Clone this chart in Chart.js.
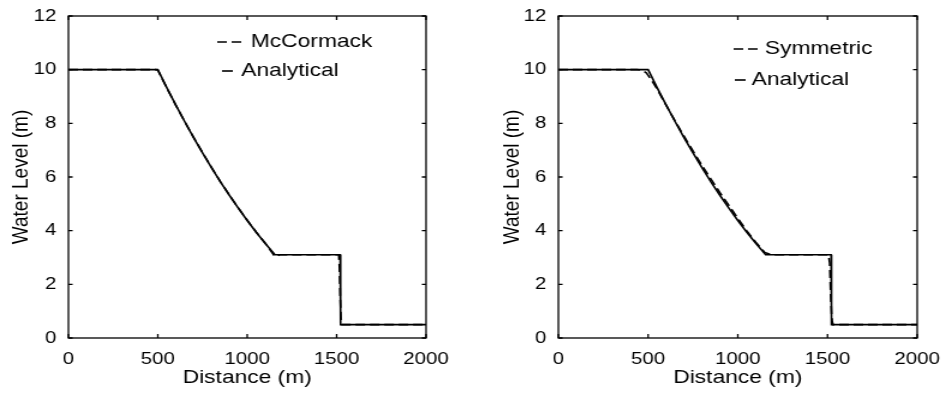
<!DOCTYPE html>
<html>
<head>
<meta charset="utf-8">
<script src="https://cdn.jsdelivr.net/npm/chart.js@4/dist/chart.umd.min.js"></script>
<style>
  body { margin: 0; background: #fff; width: 944px; height: 393px; overflow: hidden; position: relative; }
  .panel { position: absolute; top: 0; width: 393px; height: 393px; transform: scaleX(1.2); transform-origin: 0 0; }
</style>
</head>
<body>
<div class="panel" style="left:0"><canvas id="left" width="393" height="393"></canvas></div>
<div class="panel" style="left:472px"><canvas id="right" width="393" height="393"></canvas></div>
<script>
// values
const xTicks = [0, 500, 1000, 1500, 2000];
const yTicks = [0, 2, 4, 6, 8, 10, 12];

const analyticalX = [0, 500, 550, 600, 650, 700, 750, 800, 850, 900, 950, 1000, 1050, 1100, 1155, 1520, 1522, 2000];
const analyticalY = [10, 10, 9.33, 8.69, 8.07, 7.47, 6.90, 6.35, 5.82, 5.32, 4.84, 4.38, 3.94, 3.53, 3.1, 3.1, 0.5, 0.5];

const mccormackX = [0, 490, 500, 550, 600, 650, 700, 750, 800, 850, 900, 950, 1000, 1050, 1100, 1150, 1165, 1180, 1512, 1516, 1520, 1525, 1530, 2000];
const mccormackY = [10, 10, 9.98, 9.32, 8.68, 8.07, 7.48, 6.91, 6.36, 5.83, 5.33, 4.85, 4.39, 3.95, 3.54, 3.08, 3.03, 3.1, 3.1, 2.6, 1.5, 0.7, 0.5, 0.5];

const symmetricX = [0, 440, 470, 490, 520, 550, 600, 650, 700, 750, 800, 850, 900, 950, 1000, 1050, 1100, 1150, 1180, 1200, 1505, 1512, 1518, 1524, 1530, 2000];
const symmetricY = [10, 10, 9.97, 9.88, 9.6, 9.28, 8.68, 8.09, 7.52, 6.97, 6.43, 5.92, 5.42, 4.94, 4.46, 3.99, 3.57, 3.19, 3.12, 3.1, 3.1, 2.8, 1.5, 0.7, 0.5, 0.5];

const FONT = '"Liberation Sans", Arial, sans-serif';

const toPoints = (xs, ys) => xs.map((x, i) => ({ x: x, y: ys[i] }));

// matlab style box, inward ticks and legend
const matlabBox = {
  id: 'matlabBox',
  afterDatasetsDraw(chart, args, opts) {
    const ctx = chart.ctx;
    const a = chart.chartArea;
    const xs = chart.scales.x, ys = chart.scales.y;
    ctx.save();
    ctx.strokeStyle = '#000';
    ctx.lineWidth = 1.3;
    ctx.setLineDash([]);
    ctx.strokeRect(a.left, a.top, a.right - a.left, a.bottom - a.top);
    ctx.beginPath();
    xTicks.forEach((v) => {
      const px = xs.getPixelForValue(v);
      ctx.moveTo(px, a.bottom); ctx.lineTo(px, a.bottom - 4);
      ctx.moveTo(px, a.top); ctx.lineTo(px, a.top + 4);
    });
    yTicks.forEach((v) => {
      const py = ys.getPixelForValue(v);
      ctx.moveTo(a.left, py); ctx.lineTo(a.left + 3.5, py);
      ctx.moveTo(a.right, py); ctx.lineTo(a.right - 3.5, py);
    });
    ctx.stroke();

    // legend
    ctx.font = '19px ' + FONT;
    ctx.fillStyle = '#000';
    ctx.textBaseline = 'middle';
    ctx.textAlign = 'left';
    opts.items.forEach((it, i) => {
      const ds = chart.data.datasets[i];
      ctx.beginPath();
      ctx.lineWidth = 1.6;
      ctx.setLineDash(ds.borderDash || []);
      ctx.moveTo(it.x1, it.y);
      ctx.lineTo(it.x2, it.y);
      ctx.stroke();
      ctx.setLineDash([]);
      ctx.fillText(ds.label, it.tx, it.y);
    });
    ctx.restore();
  }
};

function makeChart(id, numLabel, numX, numY, pad, yWidth, legendItems) {
  new Chart(document.getElementById(id), {
    type: 'line',
    data: {
      datasets: [{
        label: numLabel,
        data: toPoints(numX, numY),
        borderColor: '#000',
        borderWidth: 1.6,
        borderDash: [8, 4],
        pointRadius: 0,
        tension: 0
      }, {
        label: 'Analytical',
        data: toPoints(analyticalX, analyticalY),
        borderColor: '#000',
        borderWidth: 1.6,
        pointRadius: 0,
        tension: 0
      }]
    },
    options: {
      responsive: false,
      animation: false,
      events: [],
      layout: { padding: pad },
      plugins: {
        legend: { display: false },
        tooltip: { enabled: false },
        matlabBox: { items: legendItems }
      },
      scales: {
        x: {
          type: 'linear',
          min: 0,
          max: 2000,
          grid: { display: false },
          border: { display: false },
          ticks: { stepSize: 500, color: '#000', font: { family: FONT, size: 17 }, padding: 3, maxRotation: 0,
            callback: (v) => String(v) },
          title: { display: true, text: 'Distance (m)', color: '#000', font: { family: FONT, size: 19 }, padding: { top: 0, bottom: 4 } },
          afterFit: (scale) => { scale.height = 55; }
        },
        y: {
          min: 0,
          max: 12,
          grid: { display: false },
          border: { display: false },
          ticks: { stepSize: 2, color: '#000', font: { family: FONT, size: 17 }, padding: 2,
            callback: (v) => String(v) },
          title: { display: true, text: 'Water Level (m)', color: '#000', font: { family: FONT, size: 19 }, padding: { top: 6, bottom: 0 } },
          afterFit: (scale) => { scale.width = yWidth; }
        }
      }
    },
    plugins: [matlabBox]
  });
}

makeChart('left', 'McCormack', mccormackX, mccormackY,
  { left: 0, top: 16, right: 38, bottom: 0 }, 57,
  [{ x1: 181, x2: 202, y: 42, tx: 209 }, { x1: 185, x2: 194, y: 71, tx: 201 }]);

makeChart('right', 'Symmetric', symmetricX, symmetricY,
  { left: 16, top: 16, right: 22, bottom: 0 }, 56,
  [{ x1: 218, x2: 238, y: 49, tx: 244 }, { x1: 219, x2: 228, y: 80, tx: 233 }]);
</script>
</body>
</html>
